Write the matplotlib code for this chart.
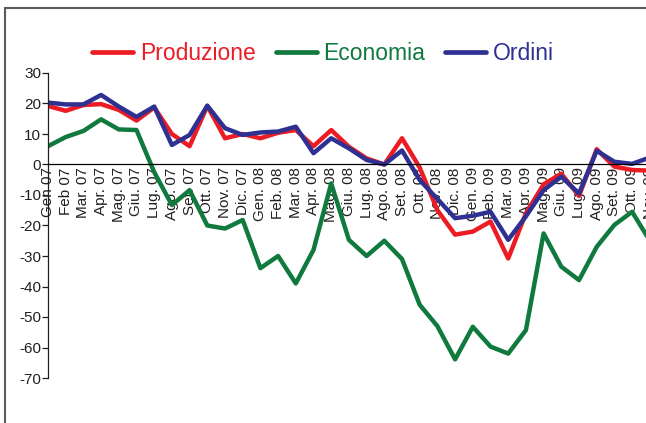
import matplotlib
matplotlib.use("Agg")
import matplotlib.pyplot as plt
from matplotlib.patches import Rectangle

months = ["Gen 07", "Feb 07", "Mar. 07", "Apr. 07", "Mag. 07", "Giu. 07", "Lug. 07",
          "Ago. 07", "Set. 07", "Ott. 07", "Nov. 07", "Dic. 07",
          "Gen. 08", "Feb. 08", "Mar. 08", "Apr. 08", "Mag. 08", "Giu. 08", "Lug. 08",
          "Ago. 08", "Set. 08", "Ott. 08", "Nov. 08", "Dic. 08",
          "Gen. 09", "Feb. 09", "Mar. 09", "Apr. 09", "Mag. 09", "Giu. 09", "Lug. 09",
          "Ago. 09", "Set. 09", "Ott. 09", "Nov. 09"]

produzione = [19.2, 17.6, 19.5, 19.8, 17.9, 14.4, 18.7, 10.0, 6.0, 19.2, 8.6, 10.0,
              8.6, 10.4, 11.3, 6.0, 11.3, 5.8, 2.0, 0.0, 8.6, -1.0, -15.0, -23.0,
              -22.0, -18.7, -30.8, -16.0, -6.5, -3.0, -10.3, 5.0, -0.7, -1.8, -2.0]

economia = [6.0, 9.0, 11.0, 14.8, 11.5, 11.3, -2.5, -13.3, -8.4, -20.0, -21.0, -18.2,
            -34.0, -30.0, -39.0, -28.0, -6.2, -24.7, -30.0, -25.0, -31.0, -46.0, -53.0, -63.9,
            -53.2, -59.7, -62.0, -54.3, -22.6, -33.5, -37.9, -27.0, -19.8, -15.5, -25.0]

ordini = [20.3, 19.7, 19.7, 22.8, 19.0, 15.6, 19.0, 6.4, 9.7, 19.3, 11.9, 9.7,
          10.5, 10.8, 12.4, 3.7, 8.6, 5.3, 1.5, 0.0, 4.6, -5.1, -11.3, -17.6,
          -16.8, -15.5, -24.7, -17.0, -8.4, -4.0, -9.5, 4.5, 0.9, 0.2, 2.3]

series_names = ["Produzione", "Economia", "Ordini"]
colors = ["#ED1C24", "#107A3E", "#2E3192"]
yticks = [30, 20, 10, 0, -10, -20, -30, -40, -50, -60, -70]

plt.rcParams["font.family"] = ["Liberation Sans", "DejaVu Sans"]

W, H = 646, 423
fig = plt.figure(figsize=(W / 100, H / 100), dpi=100)

x0, x_end = 48, 48 + 34 * 17.7
ax = fig.add_axes([x0 / W, 1 - 378 / H, (x_end - x0) / W, (378 - 73) / H])
ax.set_xlim(0, 34)
ax.set_ylim(-70, 30)

xs = list(range(len(months)))
handles = []
for vals, c, name in zip([produzione, economia, ordini], colors, series_names):
    ln, = ax.plot(xs, vals, color=c, lw=3.2, solid_joinstyle="round",
                  solid_capstyle="round", label=name)
    handles.append(ln)

# axes styling
for s in ["top", "right"]:
    ax.spines[s].set_visible(False)
ax.spines["left"].set_color("#231f20")
ax.spines["left"].set_linewidth(0.9)
ax.spines["bottom"].set_position(("data", 0))
ax.spines["bottom"].set_color("#000000")
ax.spines["bottom"].set_linewidth(0.9)
ax.set_yticks(yticks)
ax.set_yticklabels([str(v) for v in yticks])
ax.tick_params(axis="y", direction="out", length=4, width=0.9, color="#231f20",
               labelsize=11, labelcolor="#231f20", pad=1)
ax.set_xticks(xs)
ax.set_xticklabels(months, rotation=90)
ax.tick_params(axis="x", length=0, labelsize=11, labelcolor="#231f20", pad=2)
ax.patch.set_visible(False)

leg = fig.legend(handles=handles, loc="center left",
                 bbox_to_anchor=(92 / W, 1 - 54 / H), ncol=3, frameon=False,
                 labelcolor="linecolor", prop={"size": 16.5}, handlelength=1.79,
                 handletextpad=0.3, columnspacing=0.87, borderpad=0, borderaxespad=0)
for lh in leg.get_lines():
    lh.set_linewidth(3.4)

fig.add_artist(Rectangle((5 / W, -0.2), 2.0, 1.2 - 8 / H, transform=fig.transFigure,
                         fill=False, ec="#5a5a5a", lw=1.5))

fig.savefig("out.png", dpi=100)
